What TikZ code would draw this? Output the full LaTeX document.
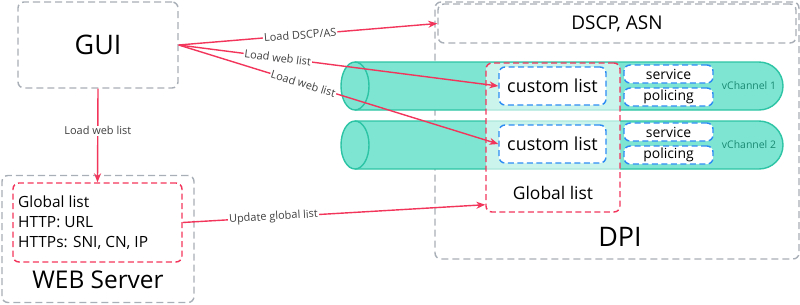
\documentclass[tikz,border=0pt]{standalone}
\usepackage{fontspec}
\setmainfont{Open Sans}
\usetikzlibrary{arrows.meta,calc}
\definecolor{linkred}{HTML}{F2355B}
\definecolor{boxgray}{HTML}{A9AFB7}
\definecolor{listblue}{HTML}{2C8CF4}
\definecolor{chanfill}{HTML}{7EE5D3}
\definecolor{chanedge}{HTML}{2CC4A4}
\definecolor{chantext}{HTML}{1A8A72}
\newcommand{\fsz}[1]{\fontsize{#1}{#1}\selectfont}

\begin{document}
\begin{tikzpicture}[x=1bp, y=-1bp, >={Stealth[length=9bp,width=7bp]},
  graybox/.style={draw=boxgray, line width=1.4bp, dash pattern=on 7bp off 4bp, rounded corners=6bp, inner sep=0pt},
  redbox/.style={draw=linkred, line width=1.4bp, dash pattern=on 6bp off 3.5bp, rounded corners=6bp, inner sep=0pt},
  bluebox/.style={draw=listblue, fill=white, line width=1.4bp, dash pattern=on 6bp off 3.5bp, rounded corners=6bp, inner sep=0pt},
  link/.style={->, draw=linkred, line width=1.4bp},
  linklabel/.style={font=\fsz{11}, text=black!75, fill=white, inner sep=1bp},
  channel/.style={fill=chanfill, draw=chanedge, line width=1.4bp}]
\useasboundingbox (0,0) rectangle (800,304);

% boxes
\node[graybox, minimum width=160bp, minimum height=86bp, font=\fsz{27}] (gui) at (98,45) {GUI};
\node[graybox, minimum width=192bp, minimum height=127bp] (web) at (98,239) {};
\node[redbox, minimum width=169bp, minimum height=79bp] (webglobal) at (97.5,222.5) {};
\node[anchor=west, align=left, font=\fsz{15.5}, inner sep=0pt] (webtext) at (18,222.5)
  {Global list\\[4.5bp]HTTP: URL\\[4.5bp]HTTPs: SNI, CN, IP};
\node[font=\fsz{24.5}] (webname) at (98,280) {WEB Server};

\node[graybox, minimum width=364bp, minimum height=257bp] (dpi) at (617,130.5) {};
\node[graybox, minimum width=358bp, minimum height=39bp, font=\fsz{19}] (dscp) at (617,23.5) {DSCP, ASN};
\node[font=\fsz{27}] (dpiname) at (620,237) {DPI};

% vChannels
\foreach \cy/\k in {86/1,145/2}{
  \draw[channel] (355,\cy-24) -- (759,\cy-24) arc[start angle=-90, end angle=90, radius=24] -- (355,\cy+24);
  \draw[channel] (355,\cy) ellipse[x radius=14, y radius=24];
  \node[font=\fsz{10.5}, text=chantext] (vch\k) at (749,\cy) {vChannel \k};
}

\node[redbox, fill=white, fill opacity=0.6, minimum width=134bp, minimum height=149bp] (glist) at (553,137.5) {};
\node[font=\fsz{17.5}] (gtext) at (553,193) {Global list};

\foreach \cy/\k in {86/1,144/2}{
  \node[bluebox, minimum width=107bp, minimum height=38bp, font=\fsz{18}] (custom\k) at (552.5,\cy) {custom list};
  \node[bluebox, minimum width=89bp, minimum height=18bp, font=\fsz{14}] (serv\k) at (668.5,\cy-12) {service};
  \node[bluebox, minimum width=89bp, minimum height=18bp, font=\fsz{14}] (pol\k) at (668.5,\cy+11) {policing};
}

% links
\draw[link] (gui.east) -- node[linklabel, sloped, pos=0.47] {Load DSCP/AS} (dscp.west);
\draw[link] (gui.east) -- node[linklabel, sloped, pos=0.31] {Load web list} (custom1.west);
\draw[link] (gui.east) -- node[linklabel, sloped, pos=0.39] {Load web list} (custom2.west);
\draw[link] (gui.south) -- node[linklabel, pos=0.45] {Load web list} (webglobal.north);
\coordinate (gin) at ($(glist.south west)+(0,-8)$);
\draw[link] (webglobal.east) -- node[linklabel, sloped, pos=0.30] {Update global list} (gin);
\end{tikzpicture}
\end{document}
